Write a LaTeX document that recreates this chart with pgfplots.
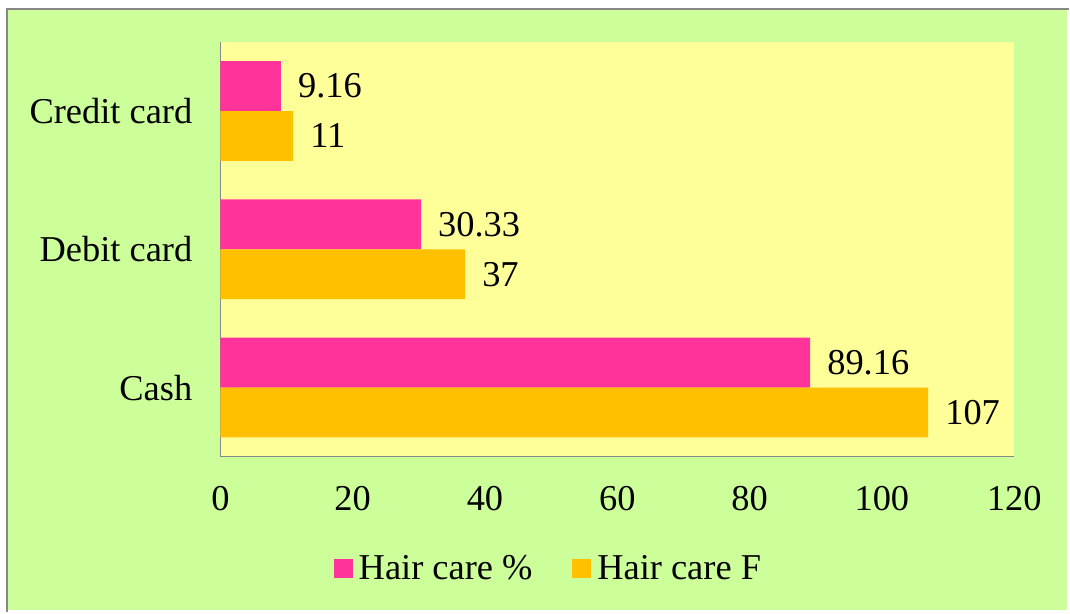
\documentclass[border=0pt]{standalone}
\usepackage{fontspec}
\setmainfont{Liberation Serif}
\usepackage{pgfplots}
\pgfplotsset{compat=1.18}

\definecolor{chartbg}{HTML}{CCFF99}
\definecolor{plotbg}{HTML}{FFFF99}
\definecolor{pinkbar}{HTML}{FF3399}
\definecolor{goldbar}{HTML}{FFC000}
\definecolor{framegray}{HTML}{888888}

\newcommand{\chartfont}{\fontsize{36.5bp}{44bp}\selectfont}

\begin{document}
\begin{tikzpicture}[x=1bp,y=1bp]
  % page area and chart frame
  \fill[white] (0,0) rectangle (1070,612);
  \fill[chartbg] (7,0) rectangle (1070,603);
  \draw[framegray, line width=2bp] (7,-2) -- (7,603) -- (1072,603);

  \begin{axis}[
    at={(221bp,154bp)}, anchor=south west,
    scale only axis,
    width=796bp, height=416bp,
    xbar,
    bar width=50bp,
    xmin=0, xmax=120,
    ymin=-0.5, ymax=2.5,
    xtick={0,20,...,120},
    ytick={0,1,2},
    yticklabels={Cash,Debit card,Credit card},
    axis lines*=left,
    axis line style={framegray, line width=1.5bp, -},
    axis background/.style={fill=plotbg},
    major tick length=0pt,
    tick style={draw=none},
    /pgf/number format/assume math mode=true,
    xticklabel style={font=\chartfont, inner sep=0pt, anchor=north, yshift=-29bp},
    yticklabel style={font=\chartfont, inner sep=0pt, anchor=east, xshift=-28bp},
    nodes near coords,
    nodes near coords style={font=\chartfont, anchor=west, inner sep=0pt, xshift=17bp,
      /pgf/number format/fixed, /pgf/number format/precision=2},
    legend columns=2,
    legend style={
      at={(0.412,-0.269)}, anchor=center,
      draw=none, fill=none,
      font=\chartfont,
      nodes={inner sep=0pt, anchor=west},
      /tikz/every odd column/.append style={column sep=6bp},
      /tikz/every even column/.append style={column sep=40bp},
    },
    legend image code/.code={\fill[#1] (0bp,-9.5bp) rectangle (19bp,9.5bp);},
  ]
    \addplot[fill=pinkbar, draw=none, bar shift=25bp]
      coordinates {(89.16,0) (30.33,1) (9.16,2)};
    \addplot[fill=goldbar, draw=none, bar shift=-25bp]
      coordinates {(107,0) (37,1) (11,2)};
    \legend{Hair care \%, Hair care F}
  \end{axis}
\end{tikzpicture}
\end{document}
